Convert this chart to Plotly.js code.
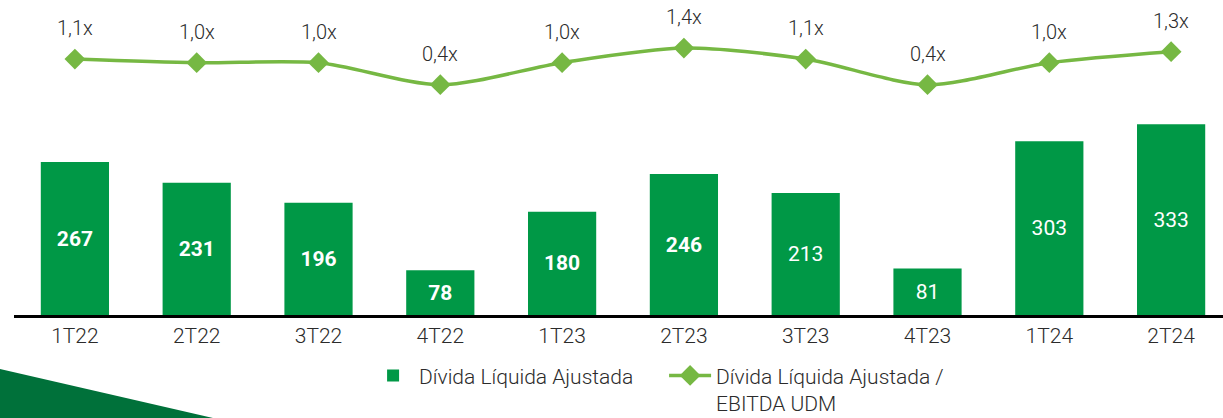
<!DOCTYPE html>
<html>
<head>
<meta charset="utf-8">
<script src="https://cdn.plot.ly/plotly-3.0.1.min.js"></script>
<style>html,body{margin:0;padding:0;background:#fff;}#chart{width:1223px;height:418px;}</style>
</head>
<body>
<div id="chart"></div>
<script>
const categories = ['1T22','2T22','3T22','4T22','1T23','2T23','3T23','4T23','1T24','2T24'];
const divida = [267, 231, 196, 78, 180, 246, 213, 81, 303, 333];
const ratio = [1.1, 1.0, 1.0, 0.4, 1.0, 1.4, 1.1, 0.4, 1.0, 1.3];
const boldCount = 6;

const barText = divida.map((v, i) => i < boldCount ? '<b>' + v + '</b>' : String(v));
const ratioText = ratio.map(v => v.toFixed(1).replace('.', ',') + 'x');

const barColor = '#009846';
const lineColor = '#76b843';
const textColor = '#2b2b2b';
const font = 'Roboto, "Open Sans", sans-serif';

const traces = [
  {
    type: 'bar',
    name: 'Dívida Líquida Ajustada',
    x: categories,
    y: divida,
    text: barText,
    textposition: 'inside',
    insidetextanchor: 'middle',
    textfont: {family: font, size: 21, color: '#ffffff'},
    marker: {color: barColor, line: {width: 0}},
    width: 0.56,
    hoverinfo: 'skip'
  },
  {
    type: 'scatter',
    mode: 'lines+markers',
    name: 'Dívida Líquida Ajustada /<br>EBITDA UDM',
    x: categories,
    y: ratio,
    yaxis: 'y2',
    line: {color: lineColor, width: 3.5, shape: 'spline', smoothing: 0.8},
    marker: {symbol: 'diamond', size: 16, color: lineColor},
    hoverinfo: 'skip'
  }
];

const annotations = categories.map((c, i) => ({
  x: c, y: ratio[i], xref: 'x', yref: 'y2',
  text: ratioText[i], showarrow: false,
  yanchor: 'middle', yshift: 31,
  font: {family: font, size: 20, color: textColor, weight: 300}
}));

const layout = {
  width: 1223, height: 418,
  margin: {l: 14, r: 0, t: 0, b: 103},
  paper_bgcolor: '#ffffff', plot_bgcolor: '#ffffff',
  showlegend: true,
  legend: {
    orientation: 'h', xref: 'container', yref: 'container',
    x: 0.543, xanchor: 'center', y: 0.15, yanchor: 'top',
    font: {family: font, size: 21, color: textColor, weight: 300},
    valign: 'top', itemwidth: 42, traceorder: 'normal', tracegroupgap: 0,
    entrywidth: 240, entrywidthmode: 'pixels'
  },
  xaxis: {
    type: 'category', range: [-0.5, 9.426],
    showgrid: false, zeroline: false,
    showline: true, linecolor: '#000000', linewidth: 2.5,
    ticks: '', tickfont: {family: font, size: 21, color: textColor, weight: 300},
    fixedrange: true
  },
  yaxis: {
    range: [0, 549.7], visible: false, showgrid: false, zeroline: false, fixedrange: true
  },
  yaxis2: {
    range: [-5.882, 2.711], overlaying: 'y', visible: false, showgrid: false, zeroline: false, fixedrange: true
  },
  annotations: annotations,
  shapes: [{
    type: 'path', xref: 'paper', yref: 'paper',
    path: 'M -0.0116 -0.1714 L 0.1646 -0.327 L -0.0116 -0.327 Z',
    fillcolor: '#00713a', line: {width: 0}, layer: 'below'
  }]
};

Plotly.newPlot('chart', traces, layout, {displayModeBar: false, staticPlot: true});
</script>
</body>
</html>
